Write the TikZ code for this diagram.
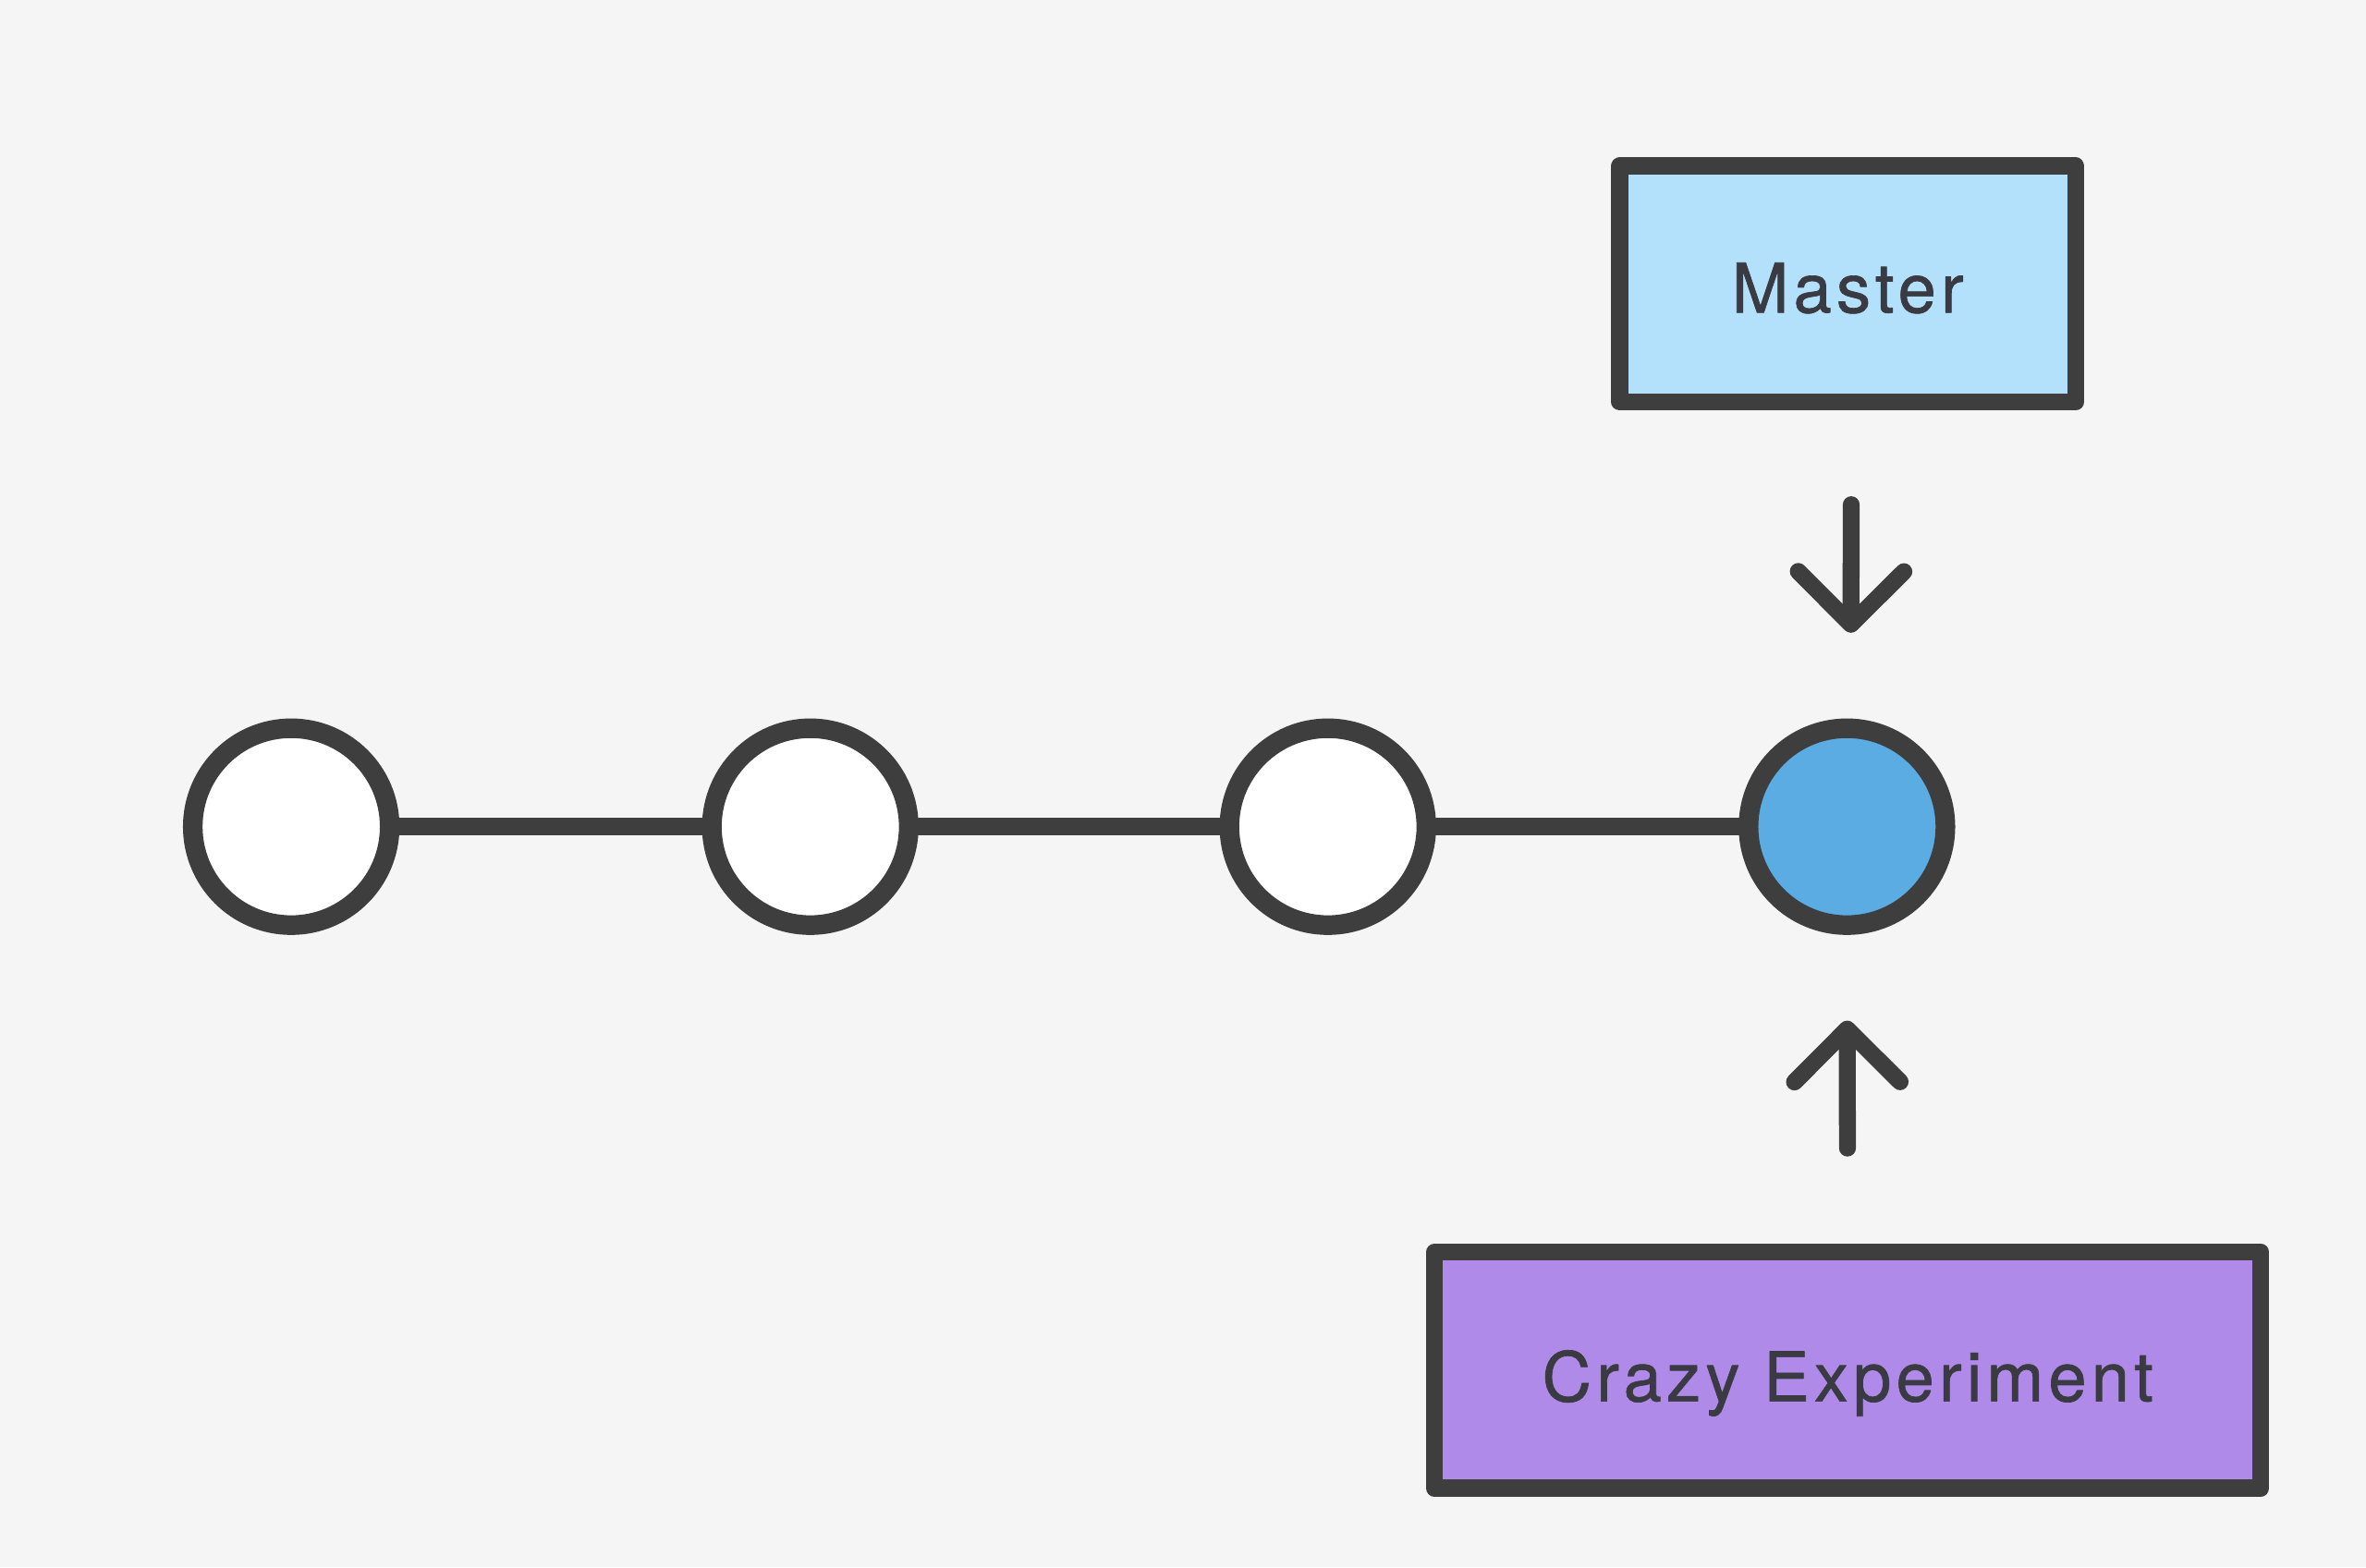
\documentclass[tikz,border=0pt]{standalone}
\usepackage{fontspec}
\setmainfont[LetterSpace=7,FakeBold=0.9]{TeX Gyre Heros}
\usetikzlibrary{arrows.meta}
\definecolor{bgc}{HTML}{F5F5F5}
\definecolor{ink}{HTML}{3E3E3E}
\definecolor{txt}{HTML}{3A3A42}
\definecolor{mfill}{HTML}{B3E1FC}
\definecolor{cfill}{HTML}{B08AE8}
\definecolor{bfill}{HTML}{5AACE2}
\begin{document}
\begin{tikzpicture}[x=1pt,y=-1pt,
  commit/.style={circle,draw=ink,line width=13pt,fill=white,minimum size=130.5pt,inner sep=0pt,outer sep=0pt},
  branchbox/.style={rectangle,draw=ink,line width=11.3pt,line join=round,minimum height=156.5pt,inner sep=0pt,outer sep=0pt,
    font=\fontsize{45.4}{50}\selectfont,text=txt,text depth=0pt},
  link/.style={draw=ink,line width=11.5pt},
  pointer/.style={draw=ink,line width=11.2pt,line cap=round,
    -{Straight Barb[length=35pt,width=70pt,line join=round,line cap=round]}}
]
\fill[bgc] (0,0) rectangle (1568,1039);
\useasboundingbox (0,0) rectangle (1568,1039);
\node[commit] (c1) at (193,548) {};
\node[commit] (c2) at (537,548) {};
\node[commit] (c3) at (880,548) {};
\node[commit,fill=bfill] (c4) at (1224,548) {};
\draw[link] (c1) -- (c2);
\draw[link] (c2) -- (c3);
\draw[link] (c3) -- (c4);
\node[branchbox,fill=mfill,minimum width=302pt,text height=37.8pt] (master) at (1224.5,188.3) {Master};
\node[branchbox,fill=cfill,minimum width=547.5pt,text height=41.2pt] (crazy) at (1224.5,908.3) {Crazy Experiment};
\draw[pointer,shorten <=68pt,shorten >=63.3pt] ([xshift=2.5pt]master.south) -- ([xshift=2.5pt]c4.north);
\draw[pointer,shorten <=69pt,shorten >=63.3pt] (crazy.north) -- (c4.south);
\end{tikzpicture}
\end{document}
